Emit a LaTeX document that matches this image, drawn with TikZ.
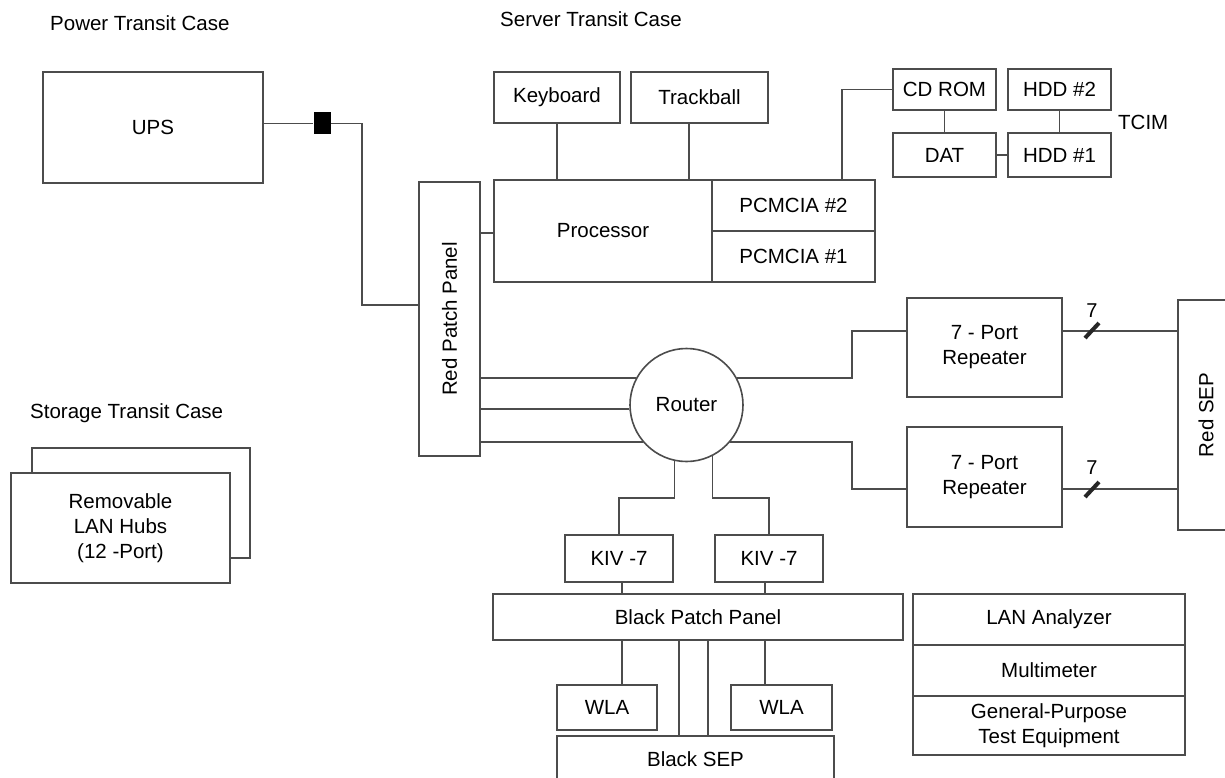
\documentclass[tikz,border=0pt]{standalone}
\usepackage{fontspec}
\setmainfont{Liberation Sans}
\begin{document}
\begin{tikzpicture}[x=1pt,y=-1pt,
  box/.style={draw=black!70, line width=1.6pt, fill=white, inner sep=0pt,
    align=center, font=\fontsize{20.5}{25}\selectfont},
  wire/.style={draw=black!70, line width=1.6pt},
  title/.style={font=\fontsize{20.5}{24}\selectfont, anchor=west, inner sep=0pt},
  slash/.style={draw=black!85, line width=4pt},
  count/.style={font=\fontsize{20}{22}\selectfont, inner sep=0pt}]
\clip (0,0) rectangle (1225,778);
\fill[white] (0,0) rectangle (1225,778);

% helper columns and rows
\coordinate (x622) at (622,0);
\coordinate (x679) at (679,0);
\coordinate (x689) at (689,0);
\coordinate (x708) at (708,0);
\coordinate (x765) at (765,0);
\coordinate (x842) at (842,0);
\coordinate (y233) at (0,233);
\coordinate (bend) at (362,305);
\coordinate (jA) at (852,331);
\coordinate (jB) at (852,489);
\coordinate (jC) at (0,498);

% case titles
\node[title] (tpower) at (50,23) {Power Transit Case};
\node[title] (tserver) at (500,19) {Server Transit Case};
\node[title] (tstorage) at (30,413) {Storage Transit Case};

% power case
\node[box, minimum width=220, minimum height=111] (ups) at (153,127.5) {UPS};
\node[fill=black, inner sep=0pt, minimum width=17, minimum height=22] (plug) at (322,123.5) {};

% server case
\node[box, minimum width=61, minimum height=274] (rpp) at (449.5,319) {\rotatebox{90}{Red Patch Panel}};
\node[box, minimum width=218, minimum height=102] (proc) at (603,231) {Processor};
\node[box, minimum width=163, minimum height=51] (pc2) at (793.5,205.5) {PCMCIA \#2};
\node[box, minimum width=163, minimum height=51] (pc1) at (793.5,256.5) {PCMCIA \#1};
\node[box, minimum width=126, minimum height=51] (kb) at (557,97.5) {Keyboard};
\node[box, minimum width=137, minimum height=51] (tb) at (699.5,97.5) {Trackball};

% TCIM drives
\node[box, minimum width=103, minimum height=41] (cdrom) at (944.5,89.5) {CD ROM};
\node[box, minimum width=103, minimum height=41] (hdd2) at (1059.5,89.5) {HDD \#2};
\node[box, minimum width=103, minimum height=44] (dat) at (944.5,155) {DAT};
\node[box, minimum width=103, minimum height=44] (hdd1) at (1059.5,155) {HDD \#1};
\node[title] (tcim) at (1118,122) {TCIM};

% network
\node[box, circle, minimum size=113] (router) at (686.5,405) {Router};
\node[box, minimum width=155, minimum height=99] (rep1) at (984.5,347.5) {7 - Port\\Repeater};
\node[box, minimum width=155, minimum height=100] (rep2) at (984.5,477) {7 - Port\\Repeater};
\node[box, minimum width=56, minimum height=230] (rsep) at (1206,415) {\rotatebox{90}{Red SEP}};
\node[box, minimum width=108, minimum height=47] (kiv1) at (619,558.5) {KIV -7};
\node[box, minimum width=108, minimum height=47] (kiv2) at (769,558.5) {KIV -7};
\node[box, minimum width=410, minimum height=46] (bpp) at (698,617) {Black Patch Panel};
\node[box, minimum width=100, minimum height=45] (wla1) at (607,707.5) {WLA};
\node[box, minimum width=101, minimum height=45] (wla2) at (781.5,707.5) {WLA};
\node[box, minimum width=277, minimum height=46, text depth=0pt] (bsep) at (695.5,759) {Black SEP};

% test equipment
\node[box, minimum width=272, minimum height=51] (lan) at (1049,619.5) {LAN Analyzer};
\node[box, minimum width=272, minimum height=51] (mm) at (1049,670.5) {Multimeter};
\node[box, minimum width=272, minimum height=59] (gp) at (1049,725.5) {General-Purpose\\Test Equipment};

% storage case
\node[box, minimum width=218, minimum height=110] (hubsback) at (141,503) {};
\node[box, minimum width=219, minimum height=110] (hubs) at (120.5,528) {Removable\\LAN Hubs\\(12 -Port)};

% power feed
\draw[wire] (ups.east |- plug.west) -- (plug.west);
\draw[wire] (plug.east) -| (bend) -- (rpp.west |- bend);

% processor links
\draw[wire] (rpp.east |- y233) -- (proc.west |- y233);
\draw[wire] (kb.south) -- (kb.south |- proc.north);
\draw[wire] (tb.south -| x689) -- (proc.north -| x689);
\draw[wire] (pc2.north -| x842) |- (cdrom.west);
\draw[wire] (cdrom.south) -- (dat.north);
\draw[wire] (hdd2.south) -- (hdd1.north);
\draw[wire] (dat.east) -- (hdd1.west);

% router links
\draw[wire] (router.152) -- (router.152 -| rpp.east);
\draw[wire] (router.184) -- (router.184 -| rpp.east);
\draw[wire] (router.220) -- (router.220 -| rpp.east);
\draw[wire] (router.28) -| (jA) -- (rep1.west |- jA);
\draw[wire] (router.320) -| (jB) -- (rep2.west |- jB);
\draw[wire] (rep1.east |- jA) -- (rsep.west |- jA);
\draw[wire] (rep2.east |- jB) -- (rsep.west |- jB);
\draw[slash] (1085,338) -- (1099,323);
\draw[slash] (1085,497) -- (1099,482);
\node[count] (n7a) at (1092,311) {7};
\node[count] (n7b) at (1092,468) {7};

\draw[wire] (router.258) |- (kiv1.north |- jC) -- (kiv1.north);
\draw[wire] (router.297) |- (kiv2.north |- jC) -- (kiv2.north);
\draw[wire] (kiv1.south -| x622) -- (bpp.north -| x622);
\draw[wire] (kiv2.south -| x765) -- (bpp.north -| x765);
\draw[wire] (bpp.south -| x622) -- (wla1.north -| x622);
\draw[wire] (bpp.south -| x765) -- (wla2.north -| x765);
\draw[wire] (bpp.south -| x679) -- (bsep.north -| x679);
\draw[wire] (bpp.south -| x708) -- (bsep.north -| x708);
\end{tikzpicture}
\end{document}
